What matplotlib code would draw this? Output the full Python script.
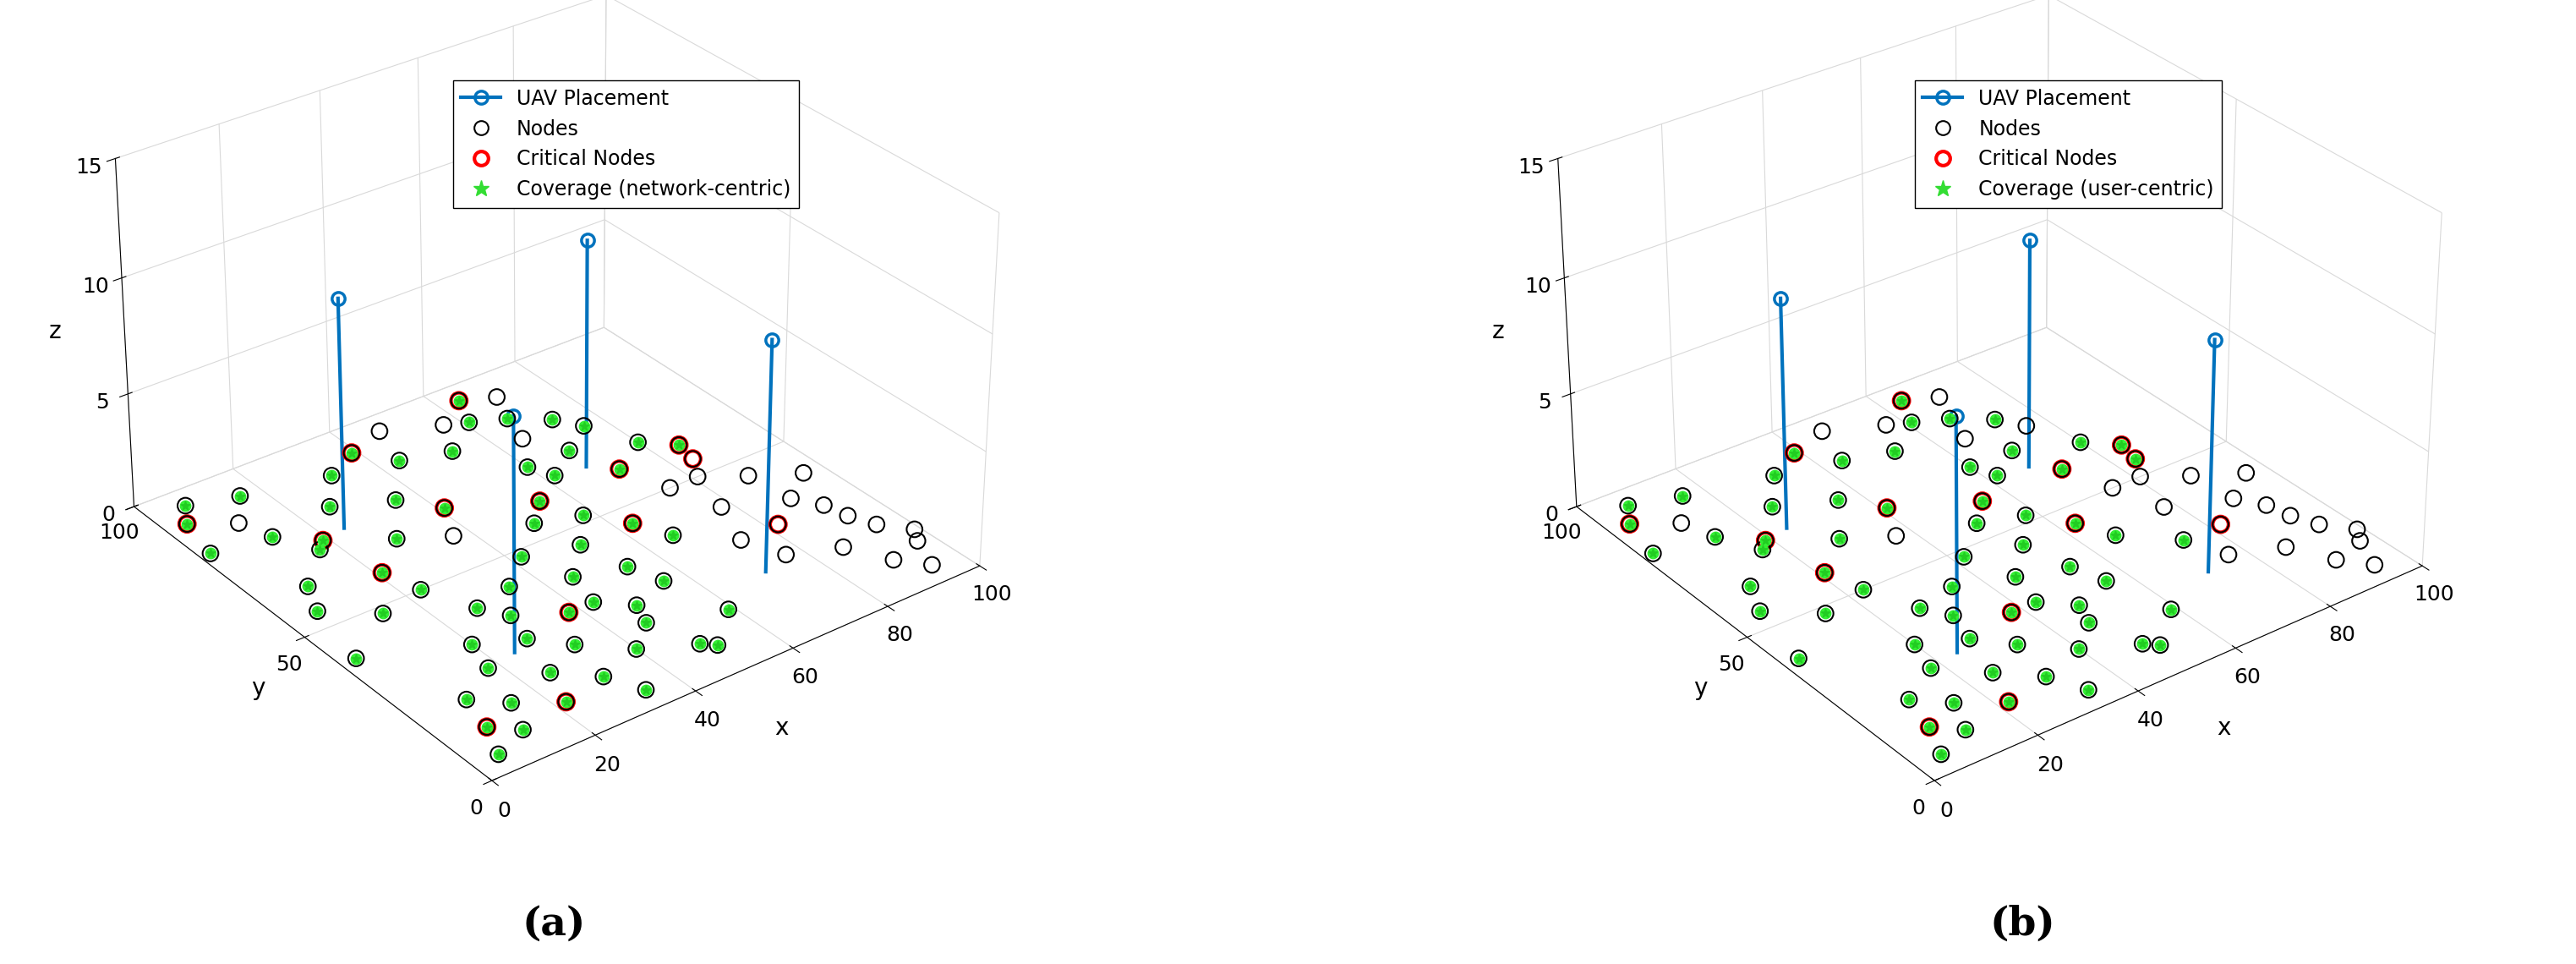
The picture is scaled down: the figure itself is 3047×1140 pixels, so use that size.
import matplotlib
matplotlib.use("Agg")
import matplotlib.pyplot as plt
import numpy as np

uav_x = [24, 24, 68, 71]
uav_y = [73, 26, 64, 20]
uav_z = [10, 10, 10, 10]

node_x = [5, 8, 12, 10, 15, 18, 20, 22, 25, 28, 30, 33, 35, 38, 40, 42, 45, 48, 50, 52,
          55, 58, 60, 62, 65, 3, 6, 9, 14, 17, 21, 26, 29, 32, 36, 39, 44, 47, 53, 57,
          61, 64, 67, 70, 73, 76, 80, 84, 88, 92, 95, 78, 82, 86, 90, 94, 97, 75, 72, 69,
          2, 4, 7, 11, 13, 16, 19, 23, 27, 31, 34, 37, 41, 43, 46, 49, 51, 54, 56, 59,
          63, 66, 74, 77, 81, 85, 89, 93, 96, 99]
node_y = [5, 12, 8, 20, 15, 25, 32, 10, 18, 28, 35, 22, 42, 30, 15, 48, 38, 25, 55, 45,
          60, 52, 70, 65, 78, 40, 55, 62, 48, 70, 58, 80, 65, 88, 75, 92, 85, 95, 82, 90,
          88, 95, 85, 92, 80, 75, 65, 55, 45, 30, 20, 40, 30, 18, 10, 5, 12, 50, 60, 70,
          80, 90, 95, 85, 78, 92, 72, 50, 40, 12, 5, 60, 68, 30, 20, 10, 8, 35, 28, 15,
          45, 38, 30, 22, 50, 60, 35, 25, 40, 15]
critical = [1, 7, 13, 20, 30, 35, 41, 47, 52, 58, 61, 66, 72, 80, 85]
covered_a = [i for i in range(90) if not (node_x[i] > 72 and node_y[i] < 60) and i not in (24, 37, 39, 43, 63, 71)]
covered_b = [i for i in range(90) if not (node_x[i] > 74 and node_y[i] < 55) and i not in (24, 37, 39, 43, 45, 63, 71, 53)]

fig = plt.figure(figsize=(30.47, 11.4), dpi=100)
panels = [([-0.01, 0.17, 0.44, 0.88], covered_a, "Coverage (network-centric)", "(a)", 0.215),
          ([0.55, 0.17, 0.44, 0.88], covered_b, "Coverage (user-centric)", "(b)", 0.785)]
nx = np.array(node_x); ny = np.array(node_y)
for rect, cov, lab, cap, cx in panels:
    ax = fig.add_axes(rect, projection="3d")
    ax.view_init(elev=30, azim=-127.5)
    ax.set_box_aspect((1.6, 1.6, 1.05), zoom=1.1)
    for i in range(len(uav_x)):
        ax.plot([uav_x[i]] * 2, [uav_y[i]] * 2, [0, uav_z[i]], color="#0072BD", lw=3)
    ax.plot(uav_x, uav_y, uav_z, ls="none", marker="o", mfc="none", mec="#0072BD", mew=2.5, ms=11)
    h_uav, = ax.plot([], [], color="#0072BD", lw=3, marker="o", mfc="none", mec="#0072BD", mew=2.5, ms=11)
    ax.scatter(nx, ny, np.zeros(90), facecolors="none", edgecolors="black", s=180, lw=1.5, depthshade=False)
    ax.scatter(nx[critical], ny[critical], np.zeros(len(critical)), facecolors="none",
               edgecolors="red", s=180, lw=3, depthshade=False)
    ax.scatter(nx[cov], ny[cov], np.zeros(len(cov)), marker="o", color="#33ee33", s=80,
               depthshade=False)
    ax.scatter(nx[cov], ny[cov], np.zeros(len(cov)), marker="*", color="#22cc22", s=60,
               depthshade=False)
    h_n, = ax.plot([], [], ls="none", marker="o", mfc="none", mec="black", ms=12, mew=1.5)
    h_c, = ax.plot([], [], ls="none", marker="o", mfc="none", mec="red", ms=12, mew=3)
    h_g, = ax.plot([], [], ls="none", marker="*", color="#33dd33", ms=14)
    ax.legend([h_uav, h_n, h_c, h_g], ["UAV Placement", "Nodes", "Critical Nodes", lab],
              loc="upper center", bbox_to_anchor=(0.6, 0.86), fontsize=17, frameon=True,
              edgecolor="black", fancybox=False, framealpha=1)
    ax.set_xlim(0, 100); ax.set_ylim(0, 100); ax.set_zlim(0, 15)
    ax.set_xticks([0, 20, 40, 60, 80, 100]); ax.set_yticks([0, 50, 100]); ax.set_zticks([0, 5, 10, 15])
    ax.set_xlabel("x", fontsize=20, labelpad=14); ax.set_ylabel("y", fontsize=20, labelpad=14)
    ax.set_zlabel("z", fontsize=20, labelpad=10)
    ax.tick_params(labelsize=18)
    for a in (ax.xaxis, ax.yaxis, ax.zaxis):
        a.set_pane_color((1, 1, 1, 1))
        a._axinfo["grid"]["color"] = (0.85, 0.85, 0.85, 1)
    ax.zaxis.set_ticks_position("upper")
    ax.zaxis.set_label_position("upper")
    fig.text(cx, 0.03, cap, fontsize=34, ha="center", fontweight="bold", family="DejaVu Serif")
fig.savefig("out.png", dpi=100)
